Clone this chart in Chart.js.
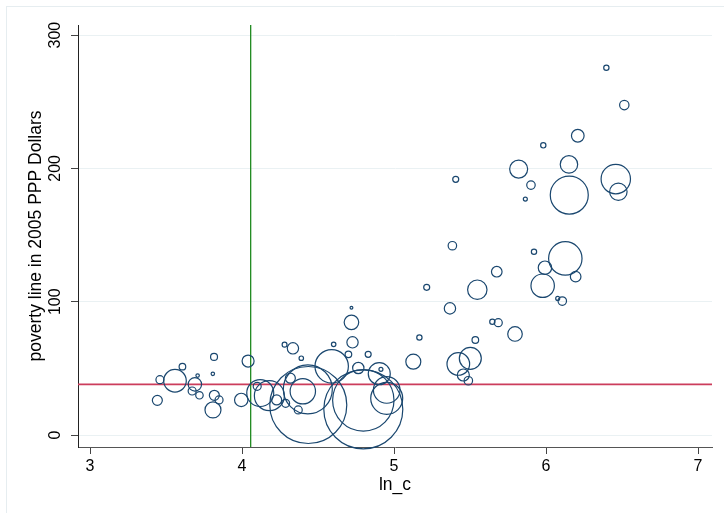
<!DOCTYPE html>
<html>
<head>
<meta charset="utf-8">
<script src="https://cdn.jsdelivr.net/npm/chart.js@4/dist/chart.umd.min.js"></script>
<style>
  html, body { margin: 0; padding: 0; background: #fff; }
  #wrap { width: 724px; height: 513px; }
</style>
</head>
<body>
<div id="wrap"><canvas id="chart"></canvas></div>
<script>
// One entry per country: log mean consumption, poverty line, population weight.
const lnC = [
  6.397, 6.515, 6.209, 5.982, 6.151, 5.82, 5.406, 5.901, 5.864, 6.153,
  6.459, 6.476, 5.384, 5.921, 6.127, 5.993, 5.676, 6.195, 5.978, 5.548,
  5.215, 6.077, 6.107, 5.368, 4.72, 4.72, 5.647, 5.686, 5.796, 5.167,
  5.535, 4.727, 4.28, 4.335, 4.603, 3.816, 4.70, 4.83, 4.39, 4.04,
  4.59, 5.127, 5.423, 5.502, 3.608, 3.708, 3.808, 4.765, 4.903, 4.914,
  5.456, 5.489, 3.46, 3.559, 3.69, 3.672, 3.72, 3.818, 3.809, 3.849,
  3.443, 3.995, 4.10, 4.12, 4.18, 4.228, 4.287, 4.37, 4.318, 4.40,
  4.433, 4.436, 4.798, 4.798, 4.952, 4.952
];
const povLine = [
  275.5, 247.5, 224.5, 217.3, 203, 199.5, 191.8, 187.5, 177, 180,
  192, 182.5, 142, 137.5, 132.5, 125.5, 122.5, 118.8, 112, 109,
  110.8, 102.5, 100.5, 95, 95.5, 84.5, 85, 84.3, 75.8, 73.2,
  71.3, 69.5, 67.8, 65, 68, 58.6, 60.5, 60.5, 57.6, 55.5,
  51.5, 55, 53.3, 57.5, 51.3, 44.6, 45.9, 50.3, 46, 49.3,
  45, 40.7, 41.5, 40.7, 38, 33, 29.8, 29.8, 18.8, 26.3,
  26, 26.3, 36.5, 31.5, 29.5, 26.3, 23.8, 18.8, 42.6, 32.8,
  34.3, 22.5, 19.3, 26, 33.8, 27.5
];
const popWeight = [
  7, 22, 40, 7, 76, 81, 9, 18, 4, 361,
  216, 76, 18, 7, 279, 45, 28, 28, 137, 94,
  9, 4, 18, 32, 2, 53, 7, 16, 53, 7,
  11, 32, 6, 32, 5, 12, 11, 9, 5, 36,
  279, 56, 128, 121, 11, 3, 3, 32, 121, 4,
  36, 18, 16, 128, 45, 16, 14, 25, 64, 16,
  25, 45, 16, 182, 225, 25, 16, 16, 25, 161,
  600, 1482, 1560, 942, 177, 256
];

const xTicks = [3, 4, 5, 6, 7];
const yTicks = [0, 100, 200, 300];
const xRange = [2.921, 7.092];
const yRange = [-9, 307.6];
const cutoffX = 4.057;   // vertical reference line
const cutoffY = 38;      // horizontal reference line

const FONT = "'Liberation Sans', Arial, Helvetica, sans-serif";
const NAVY = "#1a476f";

const bubbles = lnC.map((x, i) => ({ x, y: povLine[i], r: Math.sqrt(popWeight[i]) }));

// Chart.js reserves room for tick labels hanging past the axis ends;
// Stata doesn't, so drop that padding and pin the axis sizes.
function pinAxis(size) {
  return (s) => {
    if (s.isHorizontal()) s.height = size; else s.width = size;
    s.paddingLeft = s.paddingRight = s.paddingTop = s.paddingBottom = 0;
  };
}

// light frame round the whole graph, as in the exported Stata image
const framePlugin = {
  id: "frame",
  beforeDraw(chart) {
    const { ctx, width, height } = chart;
    ctx.save();
    ctx.fillStyle = "#fff";
    ctx.fillRect(0, 0, width, height);
    ctx.strokeStyle = "#e6edf0";
    ctx.lineWidth = 1;
    ctx.strokeRect(6.5, 6.5, width + 20, height + 20);
    ctx.restore();
  },
};

new Chart(document.getElementById("chart"), {
  type: "bubble",
  data: {
    datasets: [
      {
        data: bubbles,
        backgroundColor: "rgba(0,0,0,0)",
        borderColor: NAVY,
        borderWidth: 1.2,
        hoverBorderWidth: 1.2,
        clip: false,
        order: 0,
      },
      {
        type: "line",
        data: [{ x: cutoffX, y: yRange[0] }, { x: cutoffX, y: yRange[1] }],
        borderColor: "#1f8a1f",
        borderWidth: 1.3,
        pointRadius: 0,
        order: 1,
      },
      {
        type: "line",
        data: [{ x: xRange[0], y: cutoffY }, { x: xRange[1], y: cutoffY }],
        borderColor: "#cc3d5c",
        borderWidth: 1.6,
        pointRadius: 0,
        order: 1,
      },
    ],
  },
  options: {
    responsive: true,
    maintainAspectRatio: false,
    animation: false,
    // bubbles would otherwise push the plot area in by their largest radius
    layout: { autoPadding: false, padding: { top: 25, right: 12, left: 0, bottom: 0 } },
    plugins: { legend: { display: false }, tooltip: { enabled: false } },
    scales: {
      x: {
        type: "linear",
        min: xRange[0],
        max: xRange[1],
        afterBuildTicks: (s) => { s.ticks = xTicks.map((v) => ({ value: v })); },
        afterFit: pinAxis(66),
        grid: { drawOnChartArea: false, tickLength: 7, tickColor: "#444", tickWidth: 1 },
        border: { color: "#555", width: 1 },
        ticks: { color: "#000", font: { family: FONT, size: 16 }, padding: 3, maxRotation: 0 },
        title: {
          display: true,
          text: "ln_c",
          color: "#000",
          font: { family: FONT, size: 17.5 },
          padding: { top: 0, bottom: 17 },
        },
      },
      y: {
        type: "linear",
        min: yRange[0],
        max: yRange[1],
        afterBuildTicks: (s) => { s.ticks = yTicks.map((v) => ({ value: v })); },
        afterFit: pinAxis(78),
        grid: { color: "#eaf1f3", lineWidth: 1, tickLength: 7, tickColor: "#444", tickWidth: 1 },
        border: { color: "#222", width: 1 },
        ticks: {
          color: "#000",
          font: { family: FONT, size: 16 },
          padding: 2,
          minRotation: 90,
          maxRotation: 90,
          crossAlign: "center",
        },
        title: {
          display: true,
          text: "poverty line in 2005 PPP Dollars",
          color: "#000",
          font: { family: FONT, size: 17.5 },
          padding: { top: 26, bottom: 0 },
        },
      },
    },
  },
  plugins: [framePlugin],
});
</script>
</body>
</html>
